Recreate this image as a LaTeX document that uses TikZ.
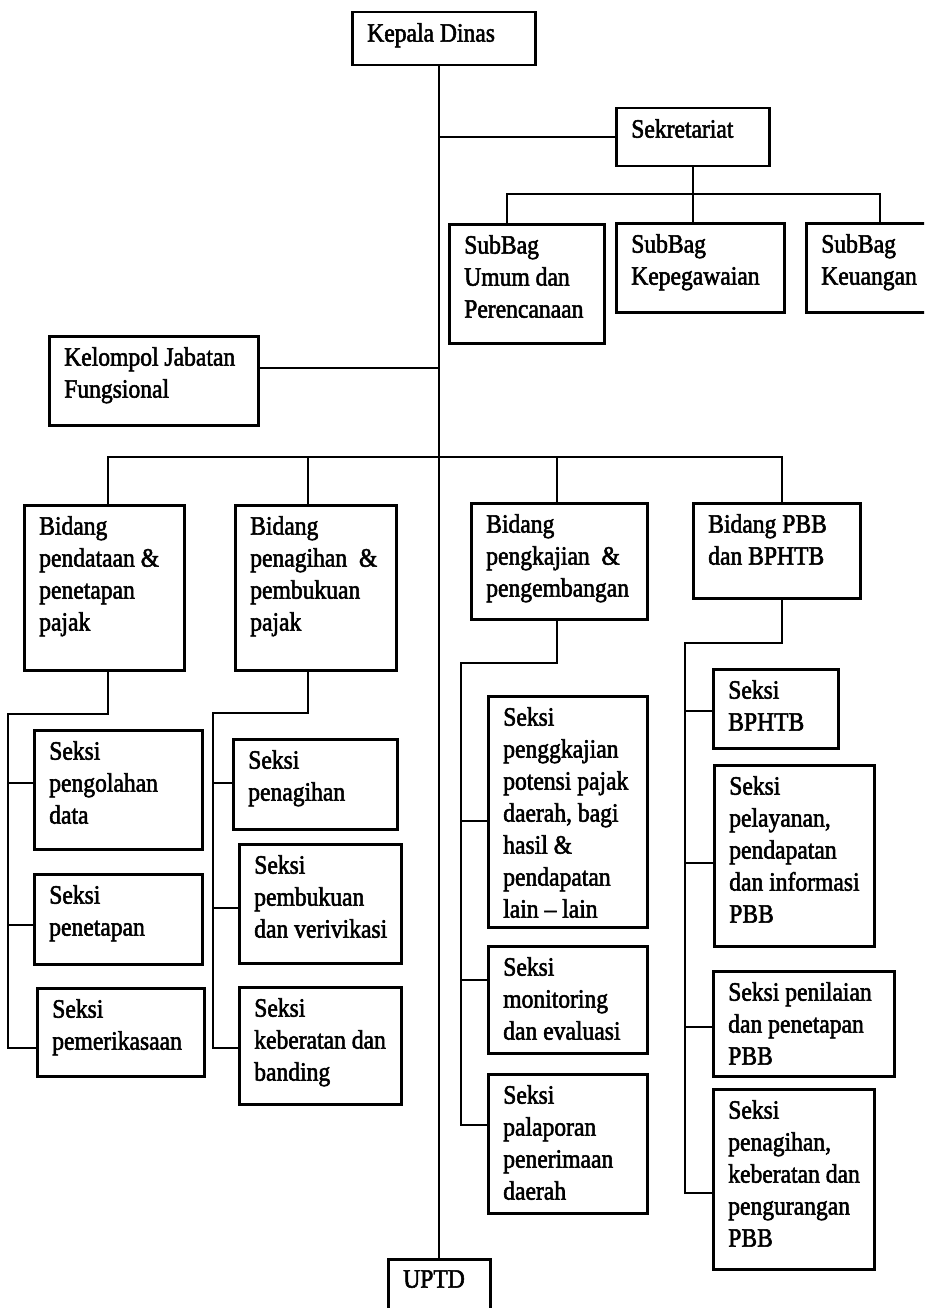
\documentclass[tikz,border=0pt]{standalone}
\usepackage{fontspec}
\newfontfamily\obf{Liberation Serif}[FakeBold=2,FakeStretch=0.89]
\newlength\lpad \setlength\lpad{15pt}
\newlength\tpad \setlength\tpad{11pt}
\tikzset{
  obox/.style={draw=black, line width=2.5pt, inner sep=0pt, anchor=north west, fill=white},
  conn/.style={draw=black, line width=2.4pt},
}
\newcommand\ob[6]{%
  \pgfmathsetmacro\obw{#4-#2}%
  \pgfmathsetmacro\obh{#5-#3}%
  \node[obox, minimum width=\obw pt, minimum height=\obh pt] (#1) at (#2,#3)
   {\parbox[t][\dimexpr\obh pt-2\tpad\relax][t]{\obw pt}{\obf\fontsize{26.5}{32}\selectfont\parindent=0pt\leftskip=\lpad\rightskip=0pt plus 1fil\relax #6}};%
}
\begin{document}
\begin{tikzpicture}[x=1pt,y=-1pt]
\fill[white] (0,0) rectangle (924,1308);
\useasboundingbox (0,0) rectangle (924,1308);
\clip (0,0) rectangle (924,1308);

% boxes
\ob{kd}{351}{11}{534}{64}{Kepala~Dinas}
\ob{sek}{615}{107}{768}{165}{Sekretariat}
\ob{umum}{448}{223}{603}{342}{SubBag\\Umum~dan\\Perencanaan}
\ob{kep}{615}{222}{783}{311}{SubBag\\Kepegawaian}
\ob{keu}{805}{222}{935}{311}{SubBag\\Keuangan}
\ob{kel}{48}{335}{257}{424}{Kelompol~Jabatan\\Fungsional}
\ob{b1}{23}{504}{183}{669}{Bidang\\pendataan~\&\\penetapan\\pajak}
\ob{b2}{234}{504}{395}{669}{Bidang\\penagihan~~\&\\pembukuan\\pajak}
\ob{b3}{470}{502}{646}{618}{Bidang\\pengkajian~~\&\\pengembangan}
\ob{b4}{692}{502}{859}{597}{Bidang~PBB\\dan~BPHTB}
\ob{s11}{33}{729}{201}{848}{Seksi\\pengolahan\\data}
\ob{s12}{33}{873}{201}{963}{Seksi\\penetapan}
\ob{s13}{36}{987}{203}{1075}{Seksi\\pemerikasaan}
\ob{s21}{232}{738}{396}{828}{Seksi\\penagihan}
\ob{s22}{238}{843}{400}{962}{Seksi\\pembukuan\\dan~verivikasi}
\ob{s23}{238}{986}{400}{1103}{Seksi\\keberatan~dan\\banding}
\ob{s31}{487}{695}{646}{926}{Seksi\\penggkajian\\potensi~pajak\\daerah,~bagi\\hasil~\&\\pendapatan\\lain~–~lain}
\ob{s32}{487}{945}{646}{1052}{Seksi\\monitoring\\dan~evaluasi}
\ob{s33}{487}{1073}{646}{1212}{Seksi\\palaporan\\penerimaan\\daerah}
\ob{s41}{712}{668}{837}{747}{Seksi\\BPHTB}
\ob{s42}{713}{764}{873}{945}{Seksi\\pelayanan,\\pendapatan\\dan~informasi\\PBB}
\ob{s43}{712}{970}{893}{1075}{Seksi~penilaian\\dan~penetapan\\PBB}
\ob{s44}{712}{1088}{873}{1268}{Seksi\\penagihan,\\keberatan~dan\\pengurangan\\PBB}
\ob{uptd}{387}{1258}{489}{1340}{UPTD}

% junction coordinates
\coordinate (kj) at (438,368);
\coordinate (sj1) at (507,194);
\coordinate (sj2) at (880,194);
\coordinate (jb1) at (108,457);
\coordinate (jb2) at (308,457);
\coordinate (jb3) at (557,457);
\coordinate (jb4) at (782,457);
\coordinate (c1t) at (108,714); \coordinate (c1l) at (8,714); \coordinate (c1e) at (8,1048);
\coordinate (c1a) at (8,783); \coordinate (c1b) at (8,925);
\coordinate (c2t) at (308,713); \coordinate (c2l) at (213,713); \coordinate (c2e) at (213,1048);
\coordinate (c2a) at (213,783); \coordinate (c2b) at (213,908);
\coordinate (c3t) at (557,663); \coordinate (c3l) at (461,663); \coordinate (c3e) at (461,1125);
\coordinate (c3a) at (461,821); \coordinate (c3b) at (461,980);
\coordinate (c4t) at (782,643); \coordinate (c4l) at (685,643); \coordinate (c4e) at (685,1193);
\coordinate (c4a) at (685,711); \coordinate (c4b) at (685,863); \coordinate (c4c) at (685,1027);

% main spine
\draw[conn] (kd.south -| uptd.north) -- (uptd.north);
% sekretariat
\draw[conn] (sek.west) -- (sek.west -| uptd.north);
\draw[conn] (sek.south) -- (sek.south |- kep.north);
\draw[conn] (umum.north -| sj1) -- (sj1) -- (sj2) -- (keu.north -| sj2);
% kelompok jabatan fungsional
\draw[conn] (kj -| kel.east) -- (kj);
% bidang bar
\draw[conn] (b1.north -| jb1) -- (jb1) -- (jb4) -- (b4.north -| jb4);
\draw[conn] (jb2) -- (b2.north -| jb2);
\draw[conn] (jb3) -- (b3.north -| jb3);
% column 1
\draw[conn] (b1.south -| c1t) -- (c1t) -- (c1l) -- (c1e) -- (c1e -| s13.west);
\draw[conn] (c1a) -- (c1a -| s11.west);
\draw[conn] (c1b) -- (c1b -| s12.west);
% column 2
\draw[conn] (b2.south -| c2t) -- (c2t) -- (c2l) -- (c2e) -- (c2e -| s23.west);
\draw[conn] (c2a) -- (c2a -| s21.west);
\draw[conn] (c2b) -- (c2b -| s22.west);
% column 3
\draw[conn] (b3.south -| c3t) -- (c3t) -- (c3l) -- (c3e) -- (c3e -| s33.west);
\draw[conn] (c3a) -- (c3a -| s31.west);
\draw[conn] (c3b) -- (c3b -| s32.west);
% column 4
\draw[conn] (b4.south -| c4t) -- (c4t) -- (c4l) -- (c4e) -- (c4e -| s44.west);
\draw[conn] (c4a) -- (c4a -| s41.west);
\draw[conn] (c4b) -- (c4b -| s42.west);
\draw[conn] (c4c) -- (c4c -| s43.west);
\end{tikzpicture}
\end{document}
